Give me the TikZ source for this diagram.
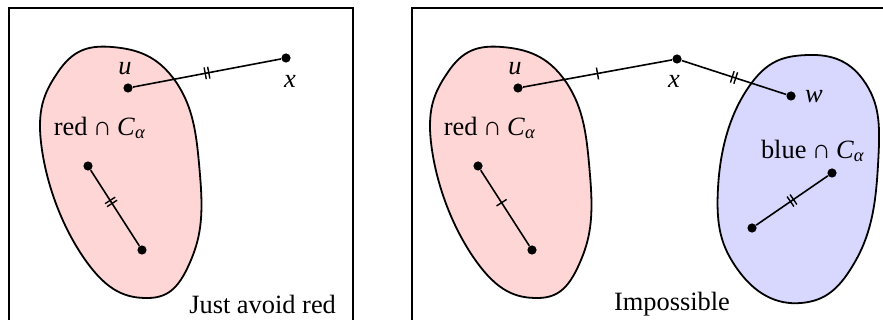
\documentclass[tikz,border=0pt]{standalone}
\usepackage{fontspec}
\setmainfont{Liberation Serif}
\usetikzlibrary{decorations.markings}

\definecolor{redfill}{RGB}{255,214,214}
\definecolor{bluefill}{RGB}{216,216,255}

\newcommand{\redshape}{plot[smooth cycle, tension=0.75] coordinates {(112,47) (176,82) (200,175) (191,260) (148,298) (86,261) (42,150) (58,72)}}
\newcommand{\capC}{\hspace{0.2em}∩\hspace{0.2em}\textit{C}\textsubscript{\textit{α}}}

\begin{document}
\begin{tikzpicture}[x=0.5pt, y=-0.5pt,
    font=\fontsize{13.2}{15}\selectfont,
    dot/.style={circle, fill=black, inner sep=0pt, minimum size=4.6pt},
    panel/.style={line width=1pt},
    blob/.style={draw, line width=0.9pt},
    seg/.style={line width=0.8pt},
    onetick/.style={postaction={decorate}, decoration={markings,
        mark=at position #1 with {\draw[line width=0.7pt] (0,-3pt) -- (0,3pt);}}},
    onetick/.default=0.5,
    twotick/.style={postaction={decorate}, decoration={markings,
        mark=at position #1 with {\draw[line width=0.7pt] (-0.9pt,-3pt) -- (-0.9pt,3pt) (0.9pt,-3pt) -- (0.9pt,3pt);}}},
    twotick/.default=0.5]

    \useasboundingbox (0,0) rectangle (883,320);

    % panels
    \draw[panel] (9,324) -- (9,8) -- (353,8) -- (353,324);
    \draw[panel] (412,324) -- (412,8) -- (888,8);

    % left: just avoid red
    \draw[blob, fill=redfill] \redshape;
    \node (redl) at (100,128) {red\capC};
    \node[dot] (u1) at (128,88) {};
    \node[dot] (x1) at (286,58) {};
    \node[dot] (a1) at (88,166) {};
    \node[dot] (b1) at (142,250) {};
    \node (ul1) at (125,69) {\textit{u}};
    \node (xl1) at (290,81) {\textit{x}};
    \draw[seg, twotick] (u1) -- (x1);
    \draw[seg, twotick=0.42] (a1) -- (b1);
    \node[anchor=base east] (avoid) at (343,314) {Just avoid red};

    % right: impossible
    \begin{scope}[shift={(390,0)}]
        \draw[blob, fill=redfill] \redshape;
    \end{scope}
    \draw[blob, fill=bluefill] plot[smooth cycle, tension=0.75] coordinates {(808,55) (866,84) (878,165) (856,260) (801,303) (738,270) (718,188) (748,88)};
    \node (redr) at (490,128) {red\capC};
    \node (bluer) at (813,151) {blue\capC};
    \node[dot] (u2) at (518,88) {};
    \node[dot] (x2) at (677,59) {};
    \node[dot] (w2) at (791,96) {};
    \node[dot] (a2) at (478,166) {};
    \node[dot] (b2) at (532,250) {};
    \node[dot] (c2) at (832,173) {};
    \node[dot] (d2) at (752,228) {};
    \node (ul2) at (515,69) {\textit{u}};
    \node (xl2) at (674,81) {\textit{x}};
    \node (wl2) at (814,97) {\textit{w}};
    \draw[seg, onetick] (u2) -- (x2);
    \draw[seg, twotick] (x2) -- (w2);
    \draw[seg, onetick=0.43] (a2) -- (b2);
    \draw[seg, twotick] (d2) -- (c2);
    \node[anchor=base] (imp) at (672,310) {Impossible};

\end{tikzpicture}
\end{document}
